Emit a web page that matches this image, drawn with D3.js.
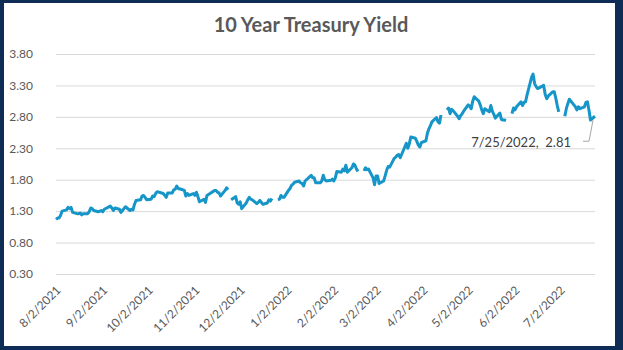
<!DOCTYPE html>
<html>
<head>
<meta charset="utf-8">
<script src="https://cdn.jsdelivr.net/npm/d3@7"></script>
<style>
  html, body { margin: 0; padding: 0; background: #fff; }
  svg { display: block; }
  text { font-family: Lato, "Liberation Sans", sans-serif; }
</style>
</head>
<body>
<svg id="chart" width="623" height="350"></svg>
<script>
// 10-year Treasury constant maturity yield, daily (percent).
// null = market holiday left blank in the series (breaks the line).
const dates = [
  "2021-08-02","2021-08-03","2021-08-04","2021-08-05","2021-08-06","2021-08-09","2021-08-10","2021-08-11","2021-08-12","2021-08-13",
  "2021-08-16","2021-08-17","2021-08-18","2021-08-19","2021-08-20","2021-08-23","2021-08-24","2021-08-25","2021-08-26","2021-08-27",
  "2021-08-30","2021-08-31",
  "2021-09-01","2021-09-02","2021-09-03","2021-09-07","2021-09-08","2021-09-09","2021-09-10","2021-09-13","2021-09-14","2021-09-15",
  "2021-09-16","2021-09-17","2021-09-20","2021-09-21","2021-09-22","2021-09-23","2021-09-24","2021-09-27","2021-09-28","2021-09-29",
  "2021-09-30",
  "2021-10-01","2021-10-04","2021-10-05","2021-10-06","2021-10-07","2021-10-08","2021-10-12","2021-10-13","2021-10-14","2021-10-15",
  "2021-10-18","2021-10-19","2021-10-20","2021-10-21","2021-10-22","2021-10-25","2021-10-26","2021-10-27","2021-10-28","2021-10-29",
  "2021-11-01","2021-11-02","2021-11-03","2021-11-04","2021-11-05","2021-11-08","2021-11-09","2021-11-10","2021-11-12","2021-11-15",
  "2021-11-16","2021-11-17","2021-11-18","2021-11-19","2021-11-22","2021-11-23","2021-11-24","2021-11-25","2021-11-26","2021-11-29",
  "2021-11-30",
  "2021-12-01","2021-12-02","2021-12-03","2021-12-06","2021-12-07","2021-12-08","2021-12-09","2021-12-10","2021-12-13","2021-12-14",
  "2021-12-15","2021-12-16","2021-12-17","2021-12-20","2021-12-21","2021-12-22","2021-12-23","2021-12-24","2021-12-27","2021-12-28",
  "2021-12-29","2021-12-30","2021-12-31",
  "2022-01-03","2022-01-04","2022-01-05","2022-01-06","2022-01-07","2022-01-10","2022-01-11","2022-01-12","2022-01-13","2022-01-14",
  "2022-01-18","2022-01-19","2022-01-20","2022-01-21","2022-01-24","2022-01-25","2022-01-26","2022-01-27","2022-01-28","2022-01-31",
  "2022-02-01","2022-02-02","2022-02-03","2022-02-04","2022-02-07","2022-02-08","2022-02-09","2022-02-10","2022-02-11","2022-02-14",
  "2022-02-15","2022-02-16","2022-02-17","2022-02-18","2022-02-21","2022-02-22","2022-02-23","2022-02-24","2022-02-25","2022-02-28",
  "2022-03-01","2022-03-02","2022-03-03","2022-03-04","2022-03-07","2022-03-08","2022-03-09","2022-03-10","2022-03-11","2022-03-14",
  "2022-03-15","2022-03-16","2022-03-17","2022-03-18","2022-03-21","2022-03-22","2022-03-23","2022-03-24","2022-03-25","2022-03-28",
  "2022-03-29","2022-03-30","2022-03-31",
  "2022-04-01","2022-04-04","2022-04-05","2022-04-06","2022-04-07","2022-04-08","2022-04-11","2022-04-12","2022-04-13","2022-04-14",
  "2022-04-15","2022-04-18","2022-04-19","2022-04-20","2022-04-21","2022-04-22","2022-04-25","2022-04-26","2022-04-27","2022-04-28",
  "2022-04-29",
  "2022-05-02","2022-05-03","2022-05-04","2022-05-05","2022-05-06","2022-05-09","2022-05-10","2022-05-11","2022-05-12","2022-05-13",
  "2022-05-16","2022-05-17","2022-05-18","2022-05-19","2022-05-20","2022-05-23","2022-05-24","2022-05-25","2022-05-26","2022-05-27",
  "2022-05-30","2022-05-31",
  "2022-06-01","2022-06-02","2022-06-03","2022-06-06","2022-06-07","2022-06-08","2022-06-09","2022-06-10","2022-06-13","2022-06-14",
  "2022-06-15","2022-06-16","2022-06-17","2022-06-21","2022-06-22","2022-06-23","2022-06-24","2022-06-27","2022-06-28","2022-06-29",
  "2022-06-30",
  "2022-07-01","2022-07-04","2022-07-05","2022-07-06","2022-07-07","2022-07-08","2022-07-11","2022-07-12","2022-07-13","2022-07-14",
  "2022-07-15","2022-07-18","2022-07-19","2022-07-20","2022-07-21","2022-07-22","2022-07-25"
];

const yields = [
  1.17,1.19,1.19,1.23,1.30,1.32,1.36,1.34,1.36,1.28,
  1.26,1.26,1.27,1.24,1.26,1.26,1.29,1.35,1.34,1.31,
  1.29,1.30,
  1.31,1.29,1.33,1.38,1.35,1.31,1.35,1.33,1.28,1.31,
  1.34,1.37,1.31,1.33,1.32,1.41,1.47,1.48,1.54,1.55,
  1.52,
  1.48,1.49,1.54,1.53,1.58,1.61,1.58,1.55,1.52,1.59,
  1.59,1.64,1.65,1.70,1.66,1.64,1.63,1.54,1.58,1.55,
  1.58,1.55,1.60,1.53,1.45,1.49,1.44,1.55,1.58,1.63,
  1.63,1.60,1.59,1.54,1.63,1.67,1.64,null,1.48,1.53,
  1.43,
  1.41,1.45,1.34,1.43,1.48,1.52,1.49,1.48,1.42,1.44,
  1.47,1.44,1.41,1.43,1.48,1.46,1.50,null,1.48,1.49,
  1.55,1.52,1.52,
  1.63,1.66,1.71,1.73,1.76,1.78,1.75,1.74,1.70,1.78,
  1.87,1.83,1.83,1.75,1.75,1.78,1.87,1.80,1.78,1.79,
  1.81,1.78,1.83,1.93,1.92,1.97,1.94,2.03,1.92,1.99,
  2.05,2.03,1.97,1.93,null,1.94,1.99,1.96,1.97,1.83,
  1.72,1.86,1.86,1.74,1.78,1.86,1.95,2.01,2.00,2.14,
  2.16,2.19,2.20,2.15,2.32,2.38,2.30,2.37,2.48,2.46,
  2.41,2.35,2.32,
  2.39,2.42,2.54,2.61,2.66,2.72,2.79,2.72,2.70,2.83,
  null,2.91,2.94,2.85,2.92,2.90,2.81,2.77,2.82,2.85,
  2.89,
  2.99,2.97,2.93,3.05,3.12,3.05,2.99,2.91,2.85,2.93,
  2.88,2.98,2.89,2.84,2.78,2.86,2.76,2.75,2.75,2.74,
  null,2.85,
  2.94,2.91,2.96,3.04,2.98,3.03,3.04,3.15,3.43,3.48,
  3.33,3.28,3.25,3.30,3.16,3.09,3.13,3.20,3.20,3.10,
  2.98,
  2.88,null,2.81,2.93,3.01,3.08,2.99,2.96,2.91,2.96,
  2.93,2.96,3.03,3.04,2.91,2.75,2.81
];

const yTicks = [0.30, 0.80, 1.30, 1.80, 2.30, 2.80, 3.30, 3.80];
const xTickLabels = ["8/2/2021","9/2/2021","10/2/2021","11/2/2021","12/2/2021","1/2/2022",
                     "2/2/2022","3/2/2022","4/2/2022","5/2/2022","6/2/2022","7/2/2022"];
const chartTitle = "10 Year Treasury Yield";

const W = 623, H = 350;
const plot = { left: 56, right: 595, top: 54, bottom: 274 };

const parse = d3.timeParse("%Y-%m-%d");
const parseLabel = d3.timeParse("%-m/%-d/%Y");
const data = dates.map((d, i) => ({ date: parse(d), value: yields[i] }));

const svg = d3.select("#chart");

// navy frame around a white chart area
svg.append("rect").attr("width", W).attr("height", H).attr("fill", "#0f2c56");
svg.append("rect").attr("x", 4).attr("y", 3).attr("width", 611).attr("height", 343).attr("fill", "#ffffff");

const x = d3.scaleTime()
  .domain([data[0].date, data[data.length - 1].date])
  .range([plot.left, plot.right]);

const y = d3.scaleLinear()
  .domain([yTicks[0], yTicks[yTicks.length - 1]])
  .range([plot.bottom, plot.top]);

// horizontal gridlines + value labels
const yAxis = d3.axisLeft(y)
  .tickValues(yTicks)
  .tickFormat(d3.format(".2f"))
  .tickSize(-(plot.right - plot.left))
  .tickPadding(23);

const gy = svg.append("g")
  .attr("transform", `translate(${plot.left},0)`)
  .call(yAxis);
gy.select(".domain").remove();
gy.selectAll(".tick line").attr("stroke", "#d9d9d9").attr("stroke-width", 1);
gy.selectAll(".tick text")
  .attr("fill", "#595959")
  .style("font-size", "12px")
  .style("font-family", "Lato, 'Liberation Sans', sans-serif");

// monthly date labels, rotated
const xAxis = d3.axisBottom(x)
  .tickValues(xTickLabels.map(parseLabel))
  .tickFormat(d3.timeFormat("%-m/%-d/%Y"))
  .tickSize(0);

const gx = svg.append("g")
  .attr("transform", `translate(0,${plot.bottom})`)
  .call(xAxis);
gx.select(".domain").remove();
gx.selectAll(".tick text")
  .attr("fill", "#595959")
  .style("font-size", "12px")
  .style("font-family", "Lato, 'Liberation Sans', sans-serif")
  .attr("text-anchor", "end")
  .attr("y", 0)
  .attr("dy", "0.35em")
  .attr("transform", "translate(2,14) rotate(-45)");

// yield line, broken at blank holidays
const line = d3.line()
  .defined(d => d.value !== null)
  .x(d => x(d.date))
  .y(d => y(d.value));

svg.append("path")
  .datum(data)
  .attr("fill", "none")
  .attr("stroke", "#1595c8")
  .attr("stroke-width", 3)
  .attr("stroke-linejoin", "round")
  .attr("stroke-linecap", "butt")
  .attr("d", line);

// label for the latest reading
const last = data[data.length - 1];
const px = x(last.date), py = y(last.value);
svg.append("polyline")
  .attr("points", [[px - 12, py + 25], [px - 6, py + 25], [px - 2, py + 4]].map(p => p.join(",")).join(" "))
  .attr("fill", "none")
  .attr("stroke", "#a6a6a6")
  .attr("stroke-width", 1);
svg.append("text")
  .attr("x", px - 24)
  .attr("y", py + 31)
  .attr("text-anchor", "end")
  .attr("fill", "#404040")
  .style("font-size", "13px")
  .style("white-space", "pre")
  .text(`${d3.timeFormat("%-m/%-d/%Y")(last.date)},  ${d3.format(".2f")(last.value)}`);

// title
svg.append("text")
  .attr("x", 311)
  .attr("y", 32)
  .attr("text-anchor", "middle")
  .attr("fill", "#595959")
  .style("font-size", "20px")
  .style("font-weight", "bold")
  .text(chartTitle);
</script>
</body>
</html>
